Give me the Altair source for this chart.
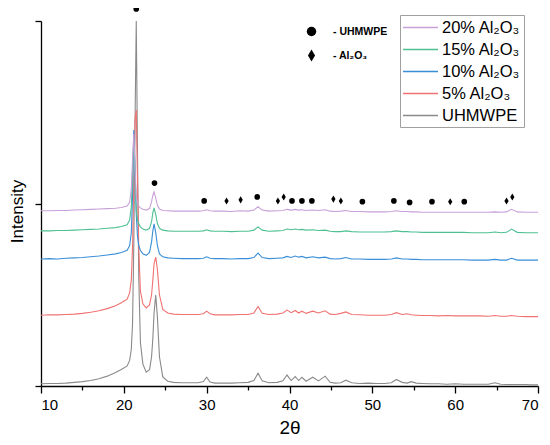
import altair as alt
import pandas as pd

# 2θ sampling positions shared by all patterns
two_theta = [
    10, 11, 12, 13, 14, 15, 16, 17, 18, 19,
    19.7, 20.4, 20.7, 20.9, 21.05, 21.2, 21.35, 21.5, 21.65, 21.8,
    22.0, 22.3, 22.7, 23.1, 23.35, 23.5, 23.65, 23.85, 24.05, 24.3,
    24.7, 25.3, 26, 27, 28, 29, 29.6, 30.0, 30.4, 31,
    32, 33, 34, 35, 35.7, 36.2, 36.7, 37.5, 38.5, 39.2,
    39.7, 40.2, 40.7, 41.1, 41.5, 42.0, 42.8, 43.5, 44.3, 44.9,
    45.5, 46.2, 46.8, 47.5, 48.5, 49.5, 50.5, 51.5, 52.3, 52.9,
    53.6, 54.2, 54.7, 55.3, 56, 57, 58, 59, 60, 61,
    62, 63, 64, 64.8, 65.5, 66.2, 66.8, 67.5, 68.5, 69.3, 70,
]

uhmwpe = [
    6, 7, 7, 8, 10, 12, 15, 20, 27, 37,
    45, 55, 70, 100, 170, 380, 720, 1000, 640, 300,
    120, 60, 38, 45, 80, 130, 200, 249, 190, 80,
    25, 13, 10, 9, 9, 9, 12, 24, 11, 8,
    8, 8, 9, 10, 15, 35, 14, 9, 10, 14,
    30, 15, 26, 15, 24, 13, 24, 14, 27, 10,
    8, 9, 16, 9, 7, 8, 7, 7, 9, 18,
    10, 8, 12, 8, 7, 6, 6, 5, 6, 5,
    5, 5, 5, 9, 5, 4, 4, 4, 4, 3, 3,
]

al5 = [
    194, 195, 195, 196, 197, 199, 202, 206, 212, 220,
    228, 238, 255, 290, 380, 560, 730, 756, 560, 380,
    260, 225, 214, 222, 250, 290, 335, 353, 320, 250,
    210, 200, 197, 196, 196, 196, 198, 205, 198, 195,
    195, 195, 196, 196, 200, 218, 199, 196, 197, 200,
    208, 201, 207, 200, 205, 199, 205, 200, 206, 197,
    196, 199, 203, 196, 195, 194, 194, 194, 196, 201,
    196, 198, 195, 194, 193, 193, 192, 193, 192, 192,
    192, 192, 191, 193, 191, 191, 193, 191, 190, 190, 190,
]

al10 = [
    348, 349, 348, 350, 351, 352, 354, 356, 359, 362,
    366, 372, 385, 420, 520, 701, 600, 470, 410, 385,
    372, 362, 358, 366, 395, 425, 444, 420, 385, 362,
    354, 351, 350, 349, 349, 349, 350, 354, 350, 349,
    349, 348, 349, 349, 352, 364, 352, 349, 350, 351,
    355, 352, 356, 353, 355, 351, 354, 351, 353, 349,
    348, 349, 352, 348, 348, 347, 347, 347, 348, 351,
    348, 348, 347, 347, 346, 346, 346, 346, 346, 346,
    345, 345, 345, 347, 345, 345, 350, 345, 345, 345, 345,
]

al15 = [
    425, 425, 426, 426, 427, 428, 429, 430, 432, 434,
    437, 442, 455, 490, 580, 680, 590, 480, 455, 445,
    436, 430, 427, 432, 450, 475, 488, 470, 445, 432,
    427, 425, 424, 424, 424, 424, 425, 428, 425, 424,
    424, 423, 424, 424, 427, 436, 427, 424, 425, 426,
    430, 428, 430, 428, 429, 427, 428, 426, 427, 424,
    423, 423, 425, 423, 422, 422, 422, 422, 423, 425,
    423, 423, 422, 422, 421, 421, 421, 421, 421, 421,
    420, 420, 420, 422, 420, 421, 430, 421, 420, 420, 420,
]

al20 = [
    480, 480, 481, 481, 482, 483, 484, 485, 486, 487,
    489, 493, 503, 540, 620, 690, 600, 520, 500, 493,
    488, 484, 482, 486, 505, 522, 532, 515, 495, 485,
    481, 480, 479, 479, 479, 479, 480, 483, 480, 479,
    479, 478, 480, 479, 482, 491, 482, 479, 480, 481,
    484, 482, 484, 482, 483, 481, 482, 481, 483, 479,
    478, 479, 481, 478, 478, 477, 477, 477, 478, 480,
    478, 478, 477, 477, 476, 476, 476, 476, 476, 476,
    476, 476, 476, 477, 476, 477, 484, 477, 476, 476, 476,
]

legend_names = ["20% Al₂O₃", "15% Al₂O₃", "10% Al₂O₃", "5% Al₂O₃", "UHMWPE"]
legend_colors = ["#c8a0d8", "#4fc093", "#3a8fd8", "#f07272", "#8a8a8a"]

# draw order: UHMWPE first, 20% last
draw_series = [
    ("UHMWPE", uhmwpe),
    ("5% Al₂O₃", al5),
    ("10% Al₂O₃", al10),
    ("15% Al₂O₃", al15),
    ("20% Al₂O₃", al20),
]

# phase markers
circle_x = [21.5, 23.7, 29.7, 36.1, 40.3, 41.5, 42.7, 48.8, 52.6, 54.5, 57.2, 61.1]
circle_y = [1033, 556, 507, 518, 507, 507, 507, 505, 507, 503, 505, 505]
diamond_x = [32.4, 34.1, 38.6, 39.3, 45.3, 46.2, 59.4, 66.2, 66.9]
diamond_y = [507, 510, 507, 518, 512, 507, 505, 507, 518]

marker_names = ["- UHMWPE", "- Al₂O₃"]
major_ticks = [10, 20, 30, 40, 50, 60, 70]
minor_ticks = [15, 25, 35, 45, 55, 65]

rows = []
for name, vals in draw_series:
    for x, y in zip(two_theta, vals):
        rows.append({"two_theta": x, "intensity": y, "series": name})
df = pd.DataFrame(rows)

mrows = [{"two_theta": x, "intensity": y, "phase": marker_names[0]} for x, y in zip(circle_x, circle_y)]
mrows += [{"two_theta": x, "intensity": y, "phase": marker_names[1]} for x, y in zip(diamond_x, diamond_y)]
dfm = pd.DataFrame(mrows)

xscale = alt.Scale(domain=[10, 70], nice=False, zero=False)
yscale = alt.Scale(domain=[0, 1000], nice=False)

line_symbol = "M-2.06,0H2.06"

lines = alt.Chart(df).mark_line(strokeWidth=1.1, clip=False).encode(
    x=alt.X("two_theta:Q", scale=xscale,
            axis=alt.Axis(values=major_ticks, title="2θ", tickSize=7, labelPadding=4,
                          labelFontSize=15, titleFontSize=19, titleFontWeight="normal",
                          titlePadding=6, grid=False, orient="bottom")),
    y=alt.Y("intensity:Q", scale=yscale,
            axis=alt.Axis(values=[0, 500, 1000], labels=False, title="Intensity", tickSize=6,
                          titleFontSize=17, titleFontWeight="normal", titlePadding=8,
                          titleY=190, grid=False)),
    color=alt.Color("series:N",
                    scale=alt.Scale(domain=legend_names, range=legend_colors),
                    legend=alt.Legend(orient="none", legendX=359, legendY=-6, title=None,
                                      symbolType=line_symbol, symbolSize=289,
                                      symbolStrokeWidth=1.5, symbolOffset=8,
                                      labelFontSize=16.5, labelOffset=12, rowPadding=4,
                                      strokeColor="#a0a0a0", padding=3)),
)

diamond_path = "M0,-1.25L0.75,0L0,1.25L-0.75,0Z"
points = alt.Chart(dfm).mark_point(filled=True, color="black", opacity=1, clip=False).encode(
    x=alt.X("two_theta:Q", scale=xscale, axis=None),
    y=alt.Y("intensity:Q", scale=yscale),
    shape=alt.Shape("phase:N",
                    scale=alt.Scale(domain=marker_names, range=["circle", diamond_path]),
                    legend=alt.Legend(orient="none", legendX=265, legendY=5, title=None,
                                      symbolSize=90, symbolFillColor="black",
                                      symbolStrokeColor="black", labelFontSize=10.5,
                                      labelFontWeight="bold", labelOffset=16, rowPadding=6,
                                      padding=0)),
    size=alt.value(32),
)

minor = alt.Chart(pd.DataFrame({"m": minor_ticks})).mark_point(opacity=0).encode(
    x=alt.X("m:Q", scale=xscale,
            axis=alt.Axis(values=minor_ticks, labels=False, tickSize=4, domain=False,
                          title=None, grid=False, orient="bottom")),
)

chart = alt.layer(lines, points, minor).resolve_axis(x="independent").properties(
    width=497, height=365,
    padding={"left": 33, "top": 13, "right": 4, "bottom": 51},
    autosize=alt.AutoSizeParams(type="none"),
).configure(font="Liberation Sans").configure_view(stroke=None).configure_axis(
    domainColor="black", tickColor="black", domainWidth=1.3, tickWidth=1.3,
    labelColor="black", titleColor="black",
).configure_legend(labelColor="black")

chart.save("out.html", embed_options={"renderer": "svg", "actions": False})
